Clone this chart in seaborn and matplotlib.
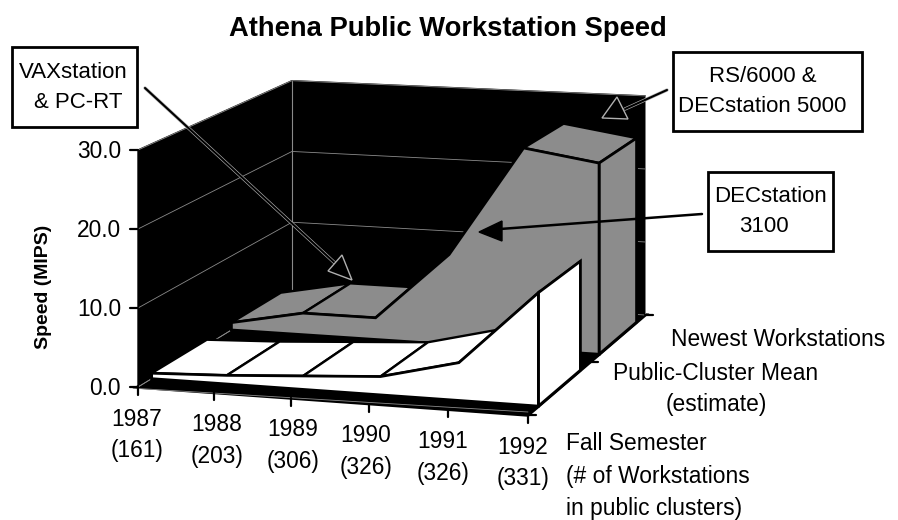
import numpy as np
import matplotlib
matplotlib.use('Agg')
import matplotlib.pyplot as plt
import matplotlib.patheffects as pe
import seaborn as sns

years = ['1987', '1988', '1989', '1990', '1991', '1992']
counts = ['(161)', '(203)', '(306)', '(326)', '(326)', '(331)']
public_mean = [0.7, 1.1, 1.7, 2.3, 4.7, 14.0]
newest = [1.0, 2.9, 2.9, 11.9, 26.5, 25.0]
speed_ticks = [0, 10, 20, 30]

sns.set_theme(style='white', color_codes=False)
plt.rcParams['font.family'] = ['Liberation Sans', 'DejaVu Sans']

BLACK = '#000000'
FS = 16.4
W, H = 898, 520
fig = plt.figure(figsize=(W / 100, H / 100), dpi=100)
ax = fig.add_axes([0, 0, 1, 1])

# floor corners in pixels: front left, front right, back right, back left
(x0, y0), (x1, y1), (x2, y2), (x3, y3) = (138, 387), (528, 415), (645, 315), (292, 293)
sx, sy = x0 - x1 + x2 - x3, y0 - y1 + y2 - y3
A = np.array([[x1 - x2, x3 - x2], [y1 - y2, y3 - y2]], float)
g, h = np.linalg.solve(A, [sx, sy])
a, b, c = x1 - x0 + g * x1, x3 - x0 + h * x3, x0
d, e, f = y1 - y0 + g * y1, y3 - y0 + h * y3, y0
z_scale = 7.9


def proj(i, v, z=0.0):
    # i = category position 0-5, v = depth 0-1, z = speed
    u = np.asarray(i, float) / 5
    w = g * u + h * v + 1
    return (a * u + b * v + c) / w, (d * u + e * v + f) / w - np.asarray(z, float) * z_scale / w


def poly(pts, color, edge=BLACK, lw=1.5, z=2):
    ax.fill([p[0] for p in pts], [p[1] for p in pts], fc=color, ec=edge, lw=lw, zorder=z, joinstyle='miter')


def line(pts, color=BLACK, lw=1.8, z=3):
    xs = [p[0] for p in pts]
    ys = [p[1] for p in pts]
    sns.lineplot(x=xs, y=ys, sort=False, estimator=None, color=color, lw=lw, ax=ax, zorder=z, legend=False)


# walls and floor
top = speed_ticks[-1]
poly([proj(0, 0), proj(0, 1), proj(0, 1, top), proj(0, 0, top)], BLACK, lw=1, z=1)
poly([proj(0, 1), proj(5, 1), proj(5, 1, top), proj(0, 1, top)], BLACK, lw=1, z=1)
poly([proj(0, 0), proj(5, 0), proj(5, 1), proj(0, 1)], BLACK, lw=2.5, z=1)
GRID = '#8a8a8a'
for t in speed_ticks:
    line([proj(0, 0, t), proj(0, 1, t), proj(5, 1, t)], GRID, 0.6, 1.5)
line([proj(0, 1), proj(0, 1, top)], GRID, 0.8, 1.5)
line([proj(5, 1), proj(5, 1, top)], GRID, 0.6, 1.5)
line([proj(0, 0), proj(0, 1)], GRID, 0.6, 1.5)
line([(proj(0, 0)[0], proj(0, 0)[1] + 1.5), (proj(5, 0)[0], proj(5, 0)[1] - 3)], GRID, 0.6, 1.5)


def ribbon(values, v0, v1, color, z):
    n = len(values)
    # tops, back to front
    for i in range(n - 1):
        poly([proj(i, v0, values[i]), proj(i + 1, v0, values[i + 1]),
              proj(i + 1, v1, values[i + 1]), proj(i, v1, values[i])], color, lw=1.7, z=z)
    # right end
    poly([proj(n - 1, v0), proj(n - 1, v1), proj(n - 1, v1, values[-1]), proj(n - 1, v0, values[-1])],
         color, lw=2, z=z + 0.1)
    # front face
    front = [proj(i, v0, values[i]) for i in range(n)] + [proj(n - 1, v0), proj(0, v0)]
    poly(front, color, lw=2, z=z + 0.2)


ribbon(newest, 0.58, 0.92, '#8c8c8c', 4)
ribbon(public_mean, 0.08, 0.42, 'white', 6)

# tick marks
label_dx = [0, 4, 3, -2, -4, -4]
for i, (yr, cnt) in enumerate(zip(years, counts)):
    tx, ty = proj(i, 0)
    line([(tx, ty), (tx, ty + 8)], BLACK, 1.6, 7)
    ax.text(tx - 1 + label_dx[i], ty + 48, f'{yr}\n{cnt}', ha='center', va='center', fontsize=FS, linespacing=1.5,
            color=BLACK)
for t in speed_ticks:
    tx, ty = proj(0, 0, t)
    line([(tx - 8, ty), (tx, ty)], BLACK, 1.6, 7)
    ax.text(tx - 17, ty + 1.5, f'{t:.1f}', ha='right', va='center', fontsize=FS, color=BLACK)
for v in [0, 0.5, 1]:
    tx, ty = proj(5, v)
    line([(tx, ty), (tx + 8, ty)], BLACK, 1.6, 7)

# labels
ax.text(448, 29, 'Athena Public Workstation Speed', ha='center', va='center', fontsize=19.7, fontweight='bold',
        color=BLACK)
ax.text(43, 287, 'Speed (MIPS)', rotation=90, ha='center', va='center', fontsize=14, fontweight='bold', color=BLACK)
ax.text(778, 339, 'Newest Workstations', ha='center', va='center', fontsize=FS, color=BLACK)
ax.text(716, 389, 'Public-Cluster Mean\n(estimate)', ha='center', va='center', fontsize=FS, linespacing=1.42,
        color=BLACK)
ax.text(566, 476, 'Fall Semester\n(# of Workstations\nin public clusters)', ha='left', va='center', fontsize=FS,
        linespacing=1.5, color=BLACK)

# callout boxes
boxes = [(12, 47, 137, 127), (673, 52, 862, 131), (708, 172, 833, 251)]
for bx0, by0, bx1, by1 in boxes:
    poly([(bx0, by0), (bx1, by0), (bx1, by1), (bx0, by1)], 'white', lw=2, z=9)
for tx, ty, s in [(73, 73, 'VAXstation'), (78, 103, '& PC-RT'), (763, 77, 'RS/6000 &'), (762, 107, 'DECstation 5000'),
                  (770, 197, 'DECstation'), (764, 227, '3100')]:
    ax.text(tx, ty, s, ha='center', va='center', fontsize=16, color=BLACK, zorder=10)

# callout arrows, light halo shows up over the black walls
halo = [pe.Stroke(linewidth=2.4, foreground='#b0b0b0'), pe.Normal()]
for (ax0, ay0), (ax1, ay1), tri in [
        ((145, 88), (337, 265), [(352, 280), (328, 271), (342, 255)]),
        ((667, 90), (625, 109), [(617, 97), (602, 118), (628, 119)])]:
    ax.plot([ax0, ax1], [ay0, ay1], color=BLACK, lw=1.5, zorder=8, path_effects=halo)
    ax.fill([p[0] for p in tri], [p[1] for p in tri], fc=BLACK, ec='#b0b0b0', lw=1, zorder=8)
ax.plot([702, 500], [214, 229], color=BLACK, lw=1.8, zorder=8)
ax.fill([479, 502, 502], [232, 221, 241], fc=BLACK, ec=BLACK, lw=1, zorder=8)

ax.set_xlim(0, W)
ax.set_ylim(H, 0)
ax.axis('off')
fig.savefig('out.png', dpi=100, facecolor='white')
